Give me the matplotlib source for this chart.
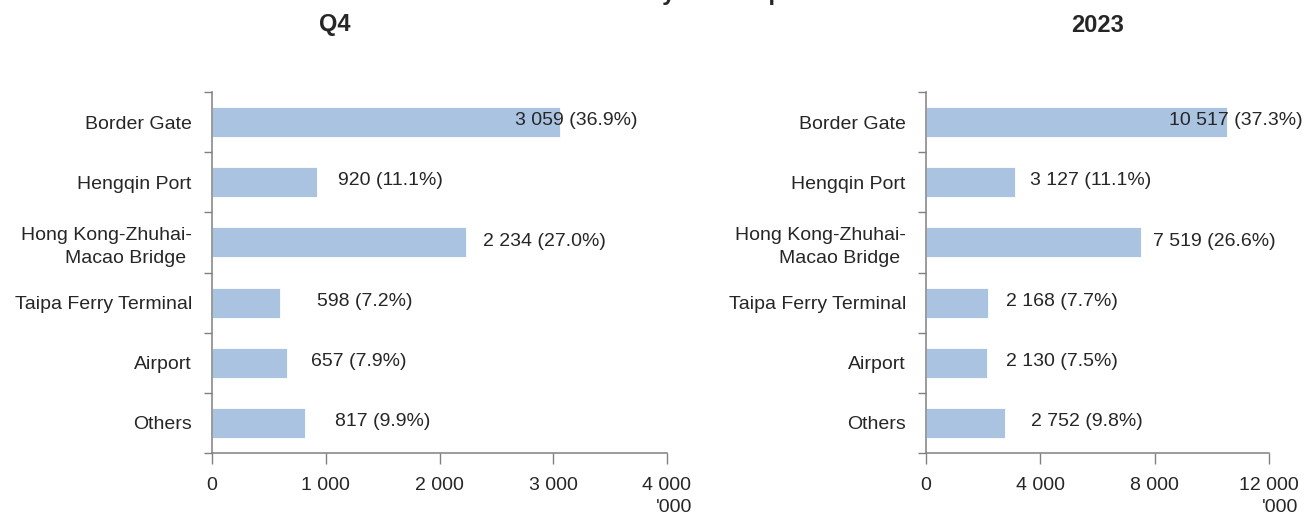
import matplotlib
matplotlib.use("Agg")
import matplotlib.pyplot as plt
from matplotlib.ticker import FuncFormatter

plt.rcParams['font.family'] = ['Liberation Sans', 'DejaVu Sans']

ports = ['Border Gate', 'Hengqin Port', 'Hong Kong-Zhuhai-\nMacao Bridge ',
         'Taipa Ferry Terminal', 'Airport', 'Others']
q4_values = [3059, 920, 2234, 598, 657, 817]
q4_share = [36.9, 11.1, 27.0, 7.2, 7.9, 9.9]
year_values = [10517, 3127, 7519, 2168, 2130, 2752]
year_share = [37.3, 11.1, 26.6, 7.7, 7.5, 9.8]

# label offsets from bar end, in pixels (as in the original layout)
q4_label_dx = [-45, 21, 17, 37, 24, 30]
year_label_dx = [-58, 15, 12, 18, 19, 26]

bar_color = '#a9c3e1'
text_color = '#262626'
axis_color = '#808080'


def fmt(v):
    return f"{int(v):,}".replace(',', ' ')


fig = plt.figure(figsize=(13.04, 5.16), dpi=100)
ax1 = fig.add_axes([212 / 1304, 1 - 453 / 516, 455 / 1304, 361 / 516])
ax2 = fig.add_axes([926 / 1304, 1 - 453 / 516, 343 / 1304, 361 / 516])

panels = [
    (ax1, q4_values, q4_share, q4_label_dx, 4000, [0, 1000, 2000, 3000, 4000], 25),
    (ax2, year_values, year_share, year_label_dx, 12000, [0, 4000, 8000, 12000], 29),
]

for ax, vals, shares, dxs, xmax, xticks, unit_dx in panels:
    y = list(range(len(ports)))
    ax.barh(y, vals, height=0.5, color=bar_color, edgecolor='white', linewidth=0.6)
    for yi, v, s, dx in zip(y, vals, shares, dxs):
        ax.annotate(f"{fmt(v)} ({s:.1f}%)", xy=(v, yi), xytext=(dx * 0.72, 1),
                    textcoords='offset points', ha='left', va='center',
                    fontsize=14, color=text_color)
    ax.set_xlim(0, xmax)
    ax.set_ylim(len(ports) - 0.5, -0.5)
    ax.set_xticks(xticks)
    ax.xaxis.set_major_formatter(FuncFormatter(lambda v, p: fmt(v)))
    ax.set_yticks(y)
    ax.set_yticklabels(ports)
    for lbl in ax.get_yticklabels():
        lbl.set_linespacing(1.4)
    ax.set_yticks([i - 0.5 for i in range(len(ports) + 1)], minor=True)
    ax.tick_params(axis='y', which='major', length=0, pad=14.5,
                   labelsize=14, labelcolor=text_color)
    ax.tick_params(axis='y', which='minor', length=6, width=1, color=axis_color)
    ax.tick_params(axis='x', length=8, width=1, color=axis_color, pad=9,
                   labelsize=14, labelcolor=text_color)
    for side in ['top', 'right']:
        ax.spines[side].set_visible(False)
    for side in ['left', 'bottom']:
        ax.spines[side].set_color(axis_color)
        ax.spines[side].set_linewidth(1.1)
    ax.annotate("'000", xy=(1, 0), xycoords='axes fraction',
                xytext=(unit_dx * 0.72, -55 * 0.72), textcoords='offset points',
                ha='right', va='center', fontsize=14, color=text_color)

narrow = ['Liberation Sans Narrow', 'Liberation Sans', 'DejaVu Sans']
fig.text(335 / 1304, 1 - 25 / 516, 'Q4', ha='center', va='center', fontsize=17,
         fontweight='bold', color=text_color, family=narrow)
fig.text(1098 / 1304, 1 - 25 / 516, '2023', ha='center', va='center', fontsize=17,
         fontweight='bold', color=text_color, family=narrow)
# main title sits above the visible area, only descenders show (as in the source)
fig.text(0.5, 1.0, 'Visitor arrivals by control point', ha='center', va='baseline',
         fontsize=17, fontweight='bold', color=text_color, family=narrow)

fig.savefig('out.png', dpi=100)
